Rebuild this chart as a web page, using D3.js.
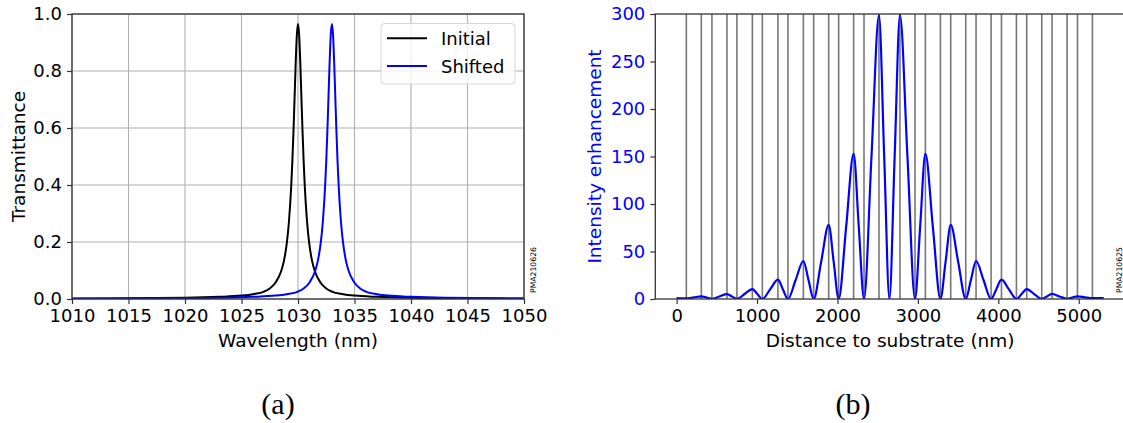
<!DOCTYPE html>
<html><head><meta charset="utf-8">
<script src="https://cdn.jsdelivr.net/npm/d3@7"></script>
<style>body{margin:0;background:#fff;} svg{display:block;}</style>
</head><body><svg id="c" width="1123" height="423"></svg>
<script>
// ---------- data: panel (a) ----------
const seriesNames = ["Initial", "Shifted"];
const initialWl = [1010,1015,1020,1023,1025,1026,1027,1027.5,1028,1028.5,1028.75,1029,1029.2,1029.4,1029.5,1029.6,1029.7,1029.8,1029.9,1030,
  1030.1,1030.2,1030.3,1030.4,1030.5,1030.6,1030.8,1031,1031.25,1031.5,1032,1032.5,1033,1034,1035,1037,1040,1045,1050];
const initialT = [0.0015,0.0022,0.004,0.0075,0.012,0.017,0.026,0.037,0.057,0.0965,0.133,0.193,0.272,0.396,0.483,0.589,0.710,0.832,0.928,0.965,
  0.928,0.832,0.710,0.589,0.483,0.396,0.272,0.193,0.133,0.0965,0.057,0.037,0.026,0.017,0.012,0.0075,0.004,0.0022,0.0015];
const shiftedWl = [1010,1015,1020,1023,1026,1028,1029,1030,1030.5,1031,1031.5,1031.75,1032,1032.2,1032.4,1032.5,1032.6,1032.7,1032.8,1032.9,1033,
  1033.1,1033.2,1033.3,1033.4,1033.5,1033.6,1033.8,1034,1034.25,1034.5,1035,1035.5,1036,1037,1038,1040,1043,1048,1050];
const shiftedT = [0.0012,0.0017,0.0028,0.004,0.0075,0.012,0.017,0.026,0.037,0.057,0.0965,0.133,0.193,0.272,0.396,0.483,0.589,0.710,0.832,0.928,0.965,
  0.928,0.832,0.710,0.589,0.483,0.396,0.272,0.193,0.133,0.0965,0.057,0.037,0.026,0.017,0.012,0.0075,0.004,0.0022,0.0019];
const wlTicks = [1010,1015,1020,1025,1030,1035,1040,1045,1050];
const tTicks = [0,0.2,0.4,0.6,0.8,1.0];

// ---------- data: panel (b) ----------
const distance = [0,60,121,214,307,373,439,532,626,688,750,846,942,1004,1066,1163,1260,1322,1384,1480,1576,1640,1704,
  1797,1891,1953,2015,2108,2201,2265,2330,2423,2516,2581,2646,2711,2777,2870,2964,3028,3093,3186,3280,3344,3408,3501,3595,
  3659,3723,3816,3910,3974,4039,4132,4225,4289,4353,4446,4540,4604,4668,4761,4855,4919,4984,5077,5170,5240,5310];
const enhancement = [1.0,0.8,0.6,1.7,2.8,1.5,0.2,2.7,5.2,2.6,0.1,5.3,10.5,5.2,0,10.1,20.3,10.1,0,20,40,20,0,
  39,78,39,0,76,153,76,0,150,299,150,0,150,299,150,0,76,153,76,0,39,78,39,0,
  20,40,20,0,10.1,20.3,10.1,0,5.2,10.5,5.2,0.1,2.7,5.3,2.7,0.2,1.5,2.8,1.8,0.9,1.0,1.0];
const layerBoundaries = [121,307,439,626,750,942,1066,1260,1384,1576,1704,1891,2015,2201,2330,2516,
  2777,2964,3093,3280,3408,3595,3723,3910,4039,4225,4353,4540,4668,4855,4984,5170];
const distTicks = [0,1000,2000,3000,4000,5000];
const enhTicks = [0,50,100,150,200,250,300];

// ---------- drawing ----------
const font = '"DejaVu Sans", sans-serif';
const FS = 18;
const svg = d3.select("#c");
const spineColor = "#333";

function styleAxis(g, labelColor) {
  g.select(".domain").remove();
  g.selectAll(".tick line").attr("stroke", spineColor).attr("stroke-width", 1.2);
  g.selectAll(".tick text").attr("font-family", font).attr("font-size", FS).attr("fill", labelColor);
}

// ===== Panel (a) =====
const A = {x0: 72, x1: 524, y0: 14, y1: 299};
const xA = d3.scaleLinear().domain([1010, 1050]).range([A.x0, A.x1]);
const yA = d3.scaleLinear().domain([0, 1]).range([A.y1, A.y0]);

const gridA = svg.append("g");
gridA.selectAll("line.vx").data(wlTicks).join("line")
  .attr("x1", d => xA(d)).attr("x2", d => xA(d)).attr("y1", A.y0).attr("y2", A.y1)
  .attr("stroke", "#b0b0b0").attr("stroke-width", 1.1);
gridA.selectAll("line.hy").data(tTicks).join("line")
  .attr("y1", d => yA(d)).attr("y2", d => yA(d)).attr("x1", A.x0).attr("x2", A.x1)
  .attr("stroke", "#b0b0b0").attr("stroke-width", 1.1);

svg.append("defs").append("clipPath").attr("id", "clipA")
  .append("rect").attr("x", A.x0).attr("y", A.y0 - 1).attr("width", A.x1 - A.x0).attr("height", A.y1 - A.y0 + 1);

const lineA = d3.line().x(d => xA(d[0])).y(d => yA(d[1])).curve(d3.curveMonotoneX);
const curvesA = [
  {name: seriesNames[0], pts: d3.zip(initialWl, initialT), color: "#000000"},
  {name: seriesNames[1], pts: d3.zip(shiftedWl, shiftedT), color: "#0000ff"}
];
const gA = svg.append("g").attr("clip-path", "url(#clipA)");
curvesA.forEach(c => {
  gA.append("path").attr("d", lineA(c.pts)).attr("fill", "none")
    .attr("stroke", c.color).attr("stroke-width", 2).attr("stroke-linejoin", "round");
});

const axA_x = svg.append("g").attr("transform", `translate(0,${A.y1})`)
  .call(d3.axisBottom(xA).tickValues(wlTicks).tickSize(5).tickPadding(5).tickFormat(d3.format("d")));
styleAxis(axA_x, "#000");
const axA_y = svg.append("g").attr("transform", `translate(${A.x0},0)`)
  .call(d3.axisLeft(yA).tickValues(tTicks).tickSize(5).tickPadding(5).tickFormat(d3.format(".1f")));
styleAxis(axA_y, "#000");

svg.append("rect").attr("x", A.x0).attr("y", A.y0).attr("width", A.x1 - A.x0).attr("height", A.y1 - A.y0)
  .attr("fill", "none").attr("stroke", spineColor).attr("stroke-width", 1.3);

// legend
const leg = svg.append("g");
leg.append("rect").attr("x", 381).attr("y", 23.5).attr("width", 134).attr("height", 60.5).attr("rx", 3.5)
  .attr("fill", "#fff").attr("fill-opacity", 0.8).attr("stroke", "#d6d6d6").attr("stroke-width", 1);
curvesA.forEach((c, i) => {
  const yy = 38.3 + i * 27.8;
  leg.append("line").attr("x1", 387).attr("x2", 427).attr("y1", yy).attr("y2", yy)
    .attr("stroke", c.color).attr("stroke-width", 2);
  leg.append("text").attr("x", 441).attr("y", yy + 6.5).attr("font-family", font).attr("font-size", FS)
    .attr("fill", "#000").text(c.name);
});

svg.append("text").attr("x", (A.x0 + A.x1) / 2).attr("y", 347).attr("text-anchor", "middle")
  .attr("font-family", font).attr("font-size", 18.5).attr("fill", "#000").text("Wavelength (nm)");
svg.append("text").attr("transform", `translate(25,${(A.y0 + A.y1) / 2}) rotate(-90)`).attr("text-anchor", "middle")
  .attr("font-family", font).attr("font-size", 18.5).attr("fill", "#000").text("Transmittance");
svg.append("text").attr("transform", `translate(536.3,270) rotate(-90)`).attr("text-anchor", "middle")
  .attr("font-family", font).attr("font-size", 7.7).attr("fill", "#000").text("PMA210626");

// ===== Panel (b) =====
const B = {x0: 655.3, x1: 1125, y0: 14, y1: 299};
const xB = d3.scaleLinear().domain([-265, 5575]).range([B.x0, B.x1]);
const yB = d3.scaleLinear().domain([0, 300]).range([B.y1, B.y0]);

svg.select("defs").append("clipPath").attr("id", "clipB")
  .append("rect").attr("x", B.x0).attr("y", B.y0).attr("width", B.x1 - B.x0).attr("height", B.y1 - B.y0);

const gB = svg.append("g").attr("clip-path", "url(#clipB)");
gB.selectAll("line.layer").data(layerBoundaries).join("line")
  .attr("x1", d => xB(d)).attr("x2", d => xB(d)).attr("y1", B.y0).attr("y2", B.y1)
  .attr("stroke", "#777").attr("stroke-width", 1.6);

const lineB = d3.line().x(d => xB(d[0])).y(d => yB(d[1])).curve(d3.curveMonotoneX);
gB.append("path").attr("d", lineB(d3.zip(distance, enhancement))).attr("fill", "none")
  .attr("stroke", "#0000ff").attr("stroke-width", 2.2).attr("stroke-linejoin", "round");

const axB_x = svg.append("g").attr("transform", `translate(0,${B.y1})`)
  .call(d3.axisBottom(xB).tickValues(distTicks).tickSize(5).tickPadding(5).tickFormat(d3.format("d")));
styleAxis(axB_x, "#000");
const axB_y = svg.append("g").attr("transform", `translate(${B.x0},0)`)
  .call(d3.axisLeft(yB).tickValues(enhTicks).tickSize(5).tickPadding(5).tickFormat(d3.format("d")));
styleAxis(axB_y, "#0000ff");

svg.append("rect").attr("x", B.x0).attr("y", B.y0).attr("width", B.x1 - B.x0).attr("height", B.y1 - B.y0)
  .attr("fill", "none").attr("stroke", spineColor).attr("stroke-width", 1.3);

svg.append("text").attr("x", (B.x0 + B.x1) / 2).attr("y", 347).attr("text-anchor", "middle")
  .attr("font-family", font).attr("font-size", 18.5).attr("fill", "#000").text("Distance to substrate (nm)");
svg.append("text").attr("transform", `translate(601,${(B.y0 + B.y1) / 2}) rotate(-90)`).attr("text-anchor", "middle")
  .attr("font-family", font).attr("font-size", 18.5).attr("fill", "#0000ff").text("Intensity enhancement");
svg.append("text").attr("transform", `translate(1122,270) rotate(-90)`).attr("text-anchor", "middle")
  .attr("font-family", font).attr("font-size", 7.7).attr("fill", "#000").text("PMA210625");

// captions
svg.append("text").attr("x", 278).attr("y", 414).attr("text-anchor", "middle")
  .attr("font-family", '"Liberation Serif", "DejaVu Serif", serif').attr("font-size", 30).attr("fill", "#000").text("(a)");
svg.append("text").attr("x", 853).attr("y", 414).attr("text-anchor", "middle")
  .attr("font-family", '"Liberation Serif", "DejaVu Serif", serif').attr("font-size", 30).attr("fill", "#000").text("(b)");
</script>
</body></html>
